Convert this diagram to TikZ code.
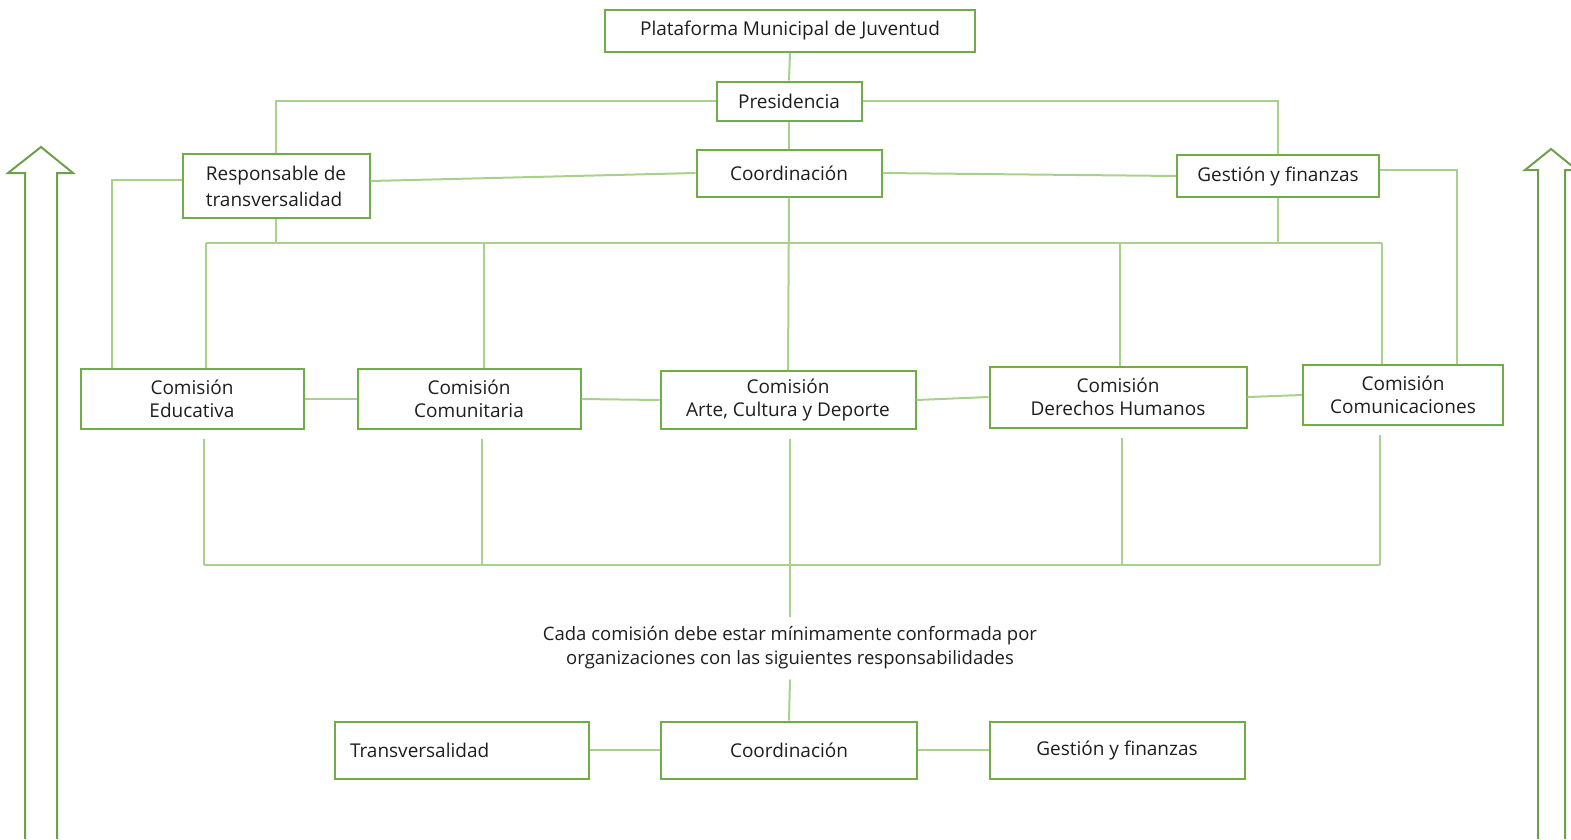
\documentclass[tikz,border=0pt]{standalone}
\usepackage{fontspec}
\setmainfont{Open Sans}
\usepackage{tikz}
\usetikzlibrary{calc}
\usetikzlibrary{math}
\definecolor{vertboite}{HTML}{70AD47}
\definecolor{vertlien}{HTML}{A9D18E}
\definecolor{vertfleche}{HTML}{6E9F4C}
\definecolor{encre}{HTML}{1E1E1E}

\begin{document}
\begin{tikzpicture}[x=1pt,y=-1pt,
            boite/.style={draw=vertboite,line width=2pt,text=encre,align=center,inner sep=2pt,font=\fontsize{19}{23}\selectfont},
            lien/.style={draw=vertlien,line width=2pt},
            fleche/.style={draw=vertfleche,line width=2pt,line join=miter}]
            \tikzmath{\ecart = 9;}
            \useasboundingbox (0,0) rectangle (1571,839);
            \node[boite,minimum width=370,minimum height=42] (plataforma) at (790,31) {Plataforma Municipal de Juventud};
            \node[boite,minimum width=145,minimum height=39] (presidencia) at (789,101) {Presidencia};
            \node[boite,minimum width=185,minimum height=47] (coord) at (789,173) {Coordinación};
            \node[boite,minimum width=187,minimum height=64,align=left,font=\fontsize{19}{26}\selectfont] (transv) at (276,186) {Responsable de\\transversalidad};
            \node[boite,minimum width=202,minimum height=42] (gestion) at (1278,176) {Gestión y finanzas};
            \foreach \nom/\x/\y/\l/\h/\txt in {educ/192/399/223/60/Educativa,comun/469/399/223/60/Comunitaria,arte/788/400/255/58/{Arte, Cultura y Deporte},ddhh/1118/397/257/61/Derechos Humanos,comunic/1403/395/200/60/Comunicaciones} {
                \node[boite,minimum width=\l,minimum height=\h] (\nom) at (\x,\y) {Comisión\\\txt};
            }
            \node[text=encre,align=center,inner ysep=10pt,font=\fontsize{18.5}{24}\selectfont] (consigne) at (790,648) {Cada comisión debe estar mínimamente conformada por\\organizaciones con las siguientes responsabilidades};
            \node[boite,minimum width=254,minimum height=57,text width=224,align=left] (transvB) at (462,750) {Transversalidad};
            \node[boite,minimum width=256,minimum height=57] (coordB) at (789,750) {Coordinación};
            \node[boite,minimum width=255,minimum height=57] (gestionB) at (1117,750) {Gestión y finanzas};
            \draw[lien] (plataforma.south) -- (presidencia.north);
            \draw[lien] (presidencia.south) -- (coord.north);
            \draw[lien] (presidencia.west) -| (transv.north);
            \draw[lien] (presidencia.east) -| (gestion.north);
            \draw[lien] (coord.west) -- ($(transv.east)+(0,-5)$);
            \draw[lien] (coord.east) -- (gestion.west);
            \draw[lien] ($(transv.west)+(0,-6)$) -| ($(educ.north west)+(32,0)$);
            \draw[lien] ($(gestion.east)+(0,-6)$) -| ($(comunic.north east)+(-47,0)$);
            \coordinate (busG) at (206,243);
            \coordinate (busD) at (1382,243);
            \draw[lien] (busG) -- (busD);
            \draw[lien] (transv.south) -- (transv.south |- busG);
            \draw[lien] (gestion.south) -- (gestion.south |- busG);
            \draw[lien] (coord.south) -- (arte.north);
            \foreach \c/\d in {educ/14,comun/15,ddhh/2,comunic/-21} {
                \draw[lien] ($(\c.north)+(\d,0)$) coordinate (h\c) -- (h\c |- busG);
            }
            \foreach \a/\b in {educ/comun,comun/arte,arte/ddhh,ddhh/comunic} {
                \draw[lien] (\a.east) -- (\b.west);
            }
            \coordinate (basG) at (204,565);
            \coordinate (basD) at (1380,565);
            \draw[lien] (basG) -- (basD);
            \foreach \c/\d in {educ/12,comun/13,ddhh/4,comunic/-23} {
                \draw[lien] ($(\c.south)+(\d,\ecart)$) coordinate (b\c) -- (b\c |- basG);
            }
            \draw[lien] ($(arte.south)+(2,\ecart)$) -- (consigne.north);
            \draw[lien] (consigne.south) -- (coordB.north);
            \draw[lien] (transvB.east) -- (coordB.west);
            \draw[lien] (coordB.east) -- (gestionB.west);
            \draw[fleche] (25,839) -- (25,173) -- (8,173) -- (41,147) -- (73,173) -- (57,173) -- (57,839);
            \draw[fleche] (1538,839) -- (1538,170) -- (1525,170) -- (1551,149) -- (1577,170) -- (1565,170) -- (1565,839);
        \end{tikzpicture}
\end{document}
